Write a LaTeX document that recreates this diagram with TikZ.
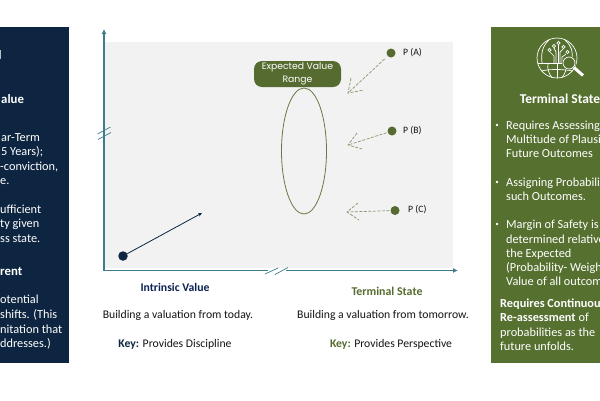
\documentclass[tikz,border=0pt]{standalone}
\usepackage{fontspec}
\setmainfont{Carlito}
\newfontfamily\labelfont{Poppins}
\usetikzlibrary{arrows.meta}
\definecolor{navy}{HTML}{0D2540}
\definecolor{leaf}{HTML}{567030}
\definecolor{axisc}{HTML}{3F7C8C}
\definecolor{plotbg}{HTML}{F2F2F2}
\definecolor{dotgreen}{HTML}{556B2F}
\definecolor{ink}{HTML}{141414}
\tikzset{
 lefttxt/.style={anchor=base west,text=white,font=\fontsize{12.3}{14}\selectfont,inner sep=0pt},
 righttxt/.style={anchor=base west,text=white,font=\fontsize{12.3}{14}\selectfont,inner sep=0pt},
 axisline/.style={axisc,line width=1.6pt,-{Latex[length=5pt,width=5pt]}},
 axisplain/.style={axisc,line width=1.6pt},
 breakmark/.style={axisc,line width=0.7pt},
 dashgreen/.style={dotgreen!70!white,line width=0.7pt,dash pattern=on 3pt off 1.5pt},
 pdot/.style={circle,fill=dotgreen,minimum size=9pt,inner sep=0pt},
 plabel/.style={anchor=west,text=ink,font=\fontsize{9.7}{11}\selectfont,inner sep=0pt},
 bodytxt/.style={text=ink,font=\fontsize{11.7}{14}\selectfont,inner sep=0pt},
 icon/.style={white,line width=0.7pt}
}
\begin{document}
\begin{tikzpicture}[x=1pt,y=-1pt]
\useasboundingbox (0,0) rectangle (600,400);
\fill[white] (0,0) rectangle (600,400);
% panels
\fill[navy] (0,27) rectangle (69,363);
\fill[leaf] (491,27) rectangle (600,363);
\fill[plotbg] (104,42) rectangle (453,268);
% left text
\draw[white!70!navy,line width=0.8pt] (0.3,50) -- (0.3,59);
\node[lefttxt,font=\fontsize{12.8}{14}\selectfont\bfseries] (l1) at (1,103) {alue};
\node[lefttxt] (l2) at (1,141) {ar-Term};
\node[lefttxt] (l3) at (1,155) {5 Years);};
\node[lefttxt] (l4) at (0,170) {-conviction,};
\node[lefttxt] (l5) at (0,184) {e.};
\node[lefttxt] (l6) at (0,213) {ufficient};
\node[lefttxt] (l7) at (0,227) {ty given};
\node[lefttxt] (l8) at (0,242) {ss state.};
\node[lefttxt,font=\fontsize{12.8}{14}\selectfont\bfseries] (l9) at (0,275) {rent};
\node[lefttxt] (l10) at (0,303) {otential};
\node[lefttxt] (l11) at (0,318) {shifts. (This};
\node[lefttxt] (l12) at (0,333) {nitation that};
\node[lefttxt] (l13) at (0,347) {ddresses.)};
% icon
\begin{scope}[icon]
\draw (557,58) circle[radius=20];
\draw (537.5,63) -- (572,63);
\draw (541,71) .. controls (550,69) and (562,69) .. (573,71);
\draw (557,63) -- (557,78);
\draw (548,63) .. controls (547,69) and (549,74) .. (552,77.5);
\draw (566,63) .. controls (567,69) and (565,74) .. (562,77.5);
\draw (549,40.2) .. controls (542,46) and (541,54) .. (542,63);
\draw (565,40.2) .. controls (572,46) and (573,52) .. (572,60);
\draw (556,63) -- (556,52) -- (554,48);
\draw (558,63) -- (558,45);
\draw (560,63) -- (560,52) -- (563,49);
\draw (554,63) -- (554,56) -- (550,52);
\draw (562,63) -- (562,57) -- (566,54);
\foreach \p in {(549.5,50),(554,46),(558.5,43),(563.5,47),(567.5,52)} \draw[fill=leaf] \p circle[radius=1.6];
\fill[leaf] (569,63) circle[radius=7];
\draw (569,63) circle[radius=6];
\draw[line width=3pt] (574,67.5) -- (583,75.5);
\end{scope}
% right text
\node[anchor=base,text=white,font=\fontsize{13.5}{14}\selectfont\bfseries,inner sep=0pt] (r0) at (560,103) {Terminal State};
\foreach \y in {129,186,228} \fill[white] (497,\y-4) circle[radius=1.3];
\node[righttxt] (r1) at (506,129) {Requires Assessing};
\node[righttxt] (r2) at (506,143) {Multitude of Plausi};
\node[righttxt] (r3) at (506,157) {Future Outcomes};
\node[righttxt] (r4) at (506,186) {Assigning Probabilit};
\node[righttxt] (r5) at (506,200) {such Outcomes.};
\node[righttxt] (r6) at (506,228) {Margin of Safety is};
\node[righttxt] (r7) at (506,243) {determined relative};
\node[righttxt] (r8) at (506,257) {the Expected};
\node[righttxt] (r9) at (506,271) {(Probability- Weigh};
\node[righttxt] (r10) at (506,285) {Value of all outcom};
\node[righttxt] (r11) at (500,307) {\textbf{Requires Continuou}};
\node[righttxt] (r12) at (500,321) {\textbf{Re-assessment} of};
\node[righttxt] (r13) at (500,336) {probabilities as the};
\node[righttxt] (r14) at (500,350) {future unfolds.};
% axes
\coordinate (origin) at (104,270.5);
\coordinate (ytop) at (104,29);
\coordinate (xend) at (458,270.5);
\coordinate (gapa) at (268,270.5);
\coordinate (gapb) at (286,270.5);
\draw[axisline] (origin) -- (ytop);
\draw[axisplain] (origin) -- (gapa);
\draw[axisline] (gapb) -- (xend);
\draw[breakmark] (97.5,134) -- (110.5,127);
\draw[breakmark] (98,139.5) -- (111,132.5);
\draw[breakmark] (265,274) -- (278,268);
\draw[breakmark] (275,274.5) -- (288,267.5);
% start dot
\node[circle,fill=navy,minimum size=9.5pt,inner sep=0pt] (start) at (123,256) {};
\coordinate (trend) at (202,213);
\draw[navy,line width=0.8pt,-{Stealth[length=4pt,width=3.5pt]}] (start) -- (trend);
% ellipse & label
\draw[dotgreen!90!white,line width=0.8pt] (304,151) ellipse[x radius=22.5,y radius=63];
\node[fill=dotgreen,rounded corners=8pt,minimum width=87pt,minimum height=26pt,inner sep=0pt,align=center,text=white,font=\labelfont\fontsize{9.3}{12.8}\selectfont] (range) at (297.5,74) {Expected Value\\Range};
% P
\node[pdot] (pa) at (391,53) {};
\node[pdot] (pb) at (392,131) {};
\node[pdot] (pc) at (395,210.5) {};
\node[plabel] (la) at (403,53) {P (A)};
\node[plabel] (lb) at (403,131) {P (B)};
\node[plabel] (lc) at (408,210) {P (C)};
\coordinate (ta) at (348,93);
\coordinate (tb) at (348,145);
\coordinate (tc) at (347,212);
\draw[dashgreen,shorten <=4pt] (pa) -- (ta);
\draw[dashgreen,shorten <=1pt] (pb) -- (tb);
\draw[dashgreen,shorten <=1pt] (pc) -- (tc);
\draw[dashgreen] (351,78) -- (ta) -- (364,90);
\draw[dashgreen] (357,133) -- (tb) -- (362,149);
\draw[dashgreen] (358,203) -- (tc) -- (359,220);
% bottom text
\node[text=navy!90!blue,font=\fontsize{11.7}{14}\selectfont\bfseries,inner sep=0pt] (b1) at (175,287) {Intrinsic Value};
\node[text=dotgreen,font=\fontsize{11.9}{14}\selectfont\bfseries,inner sep=0pt] (b2) at (387,291) {Terminal State};
\node[bodytxt] (b3) at (178,315) {Building a valuation from today.};
\node[bodytxt] (b4) at (383,315) {Building a valuation from tomorrow.};
\node[bodytxt] (b5) at (175,344) {\textbf{\textcolor{navy}{Key:}} Provides Discipline};
\node[bodytxt] (b6) at (391,344) {\textbf{\textcolor{dotgreen}{Key:}} Provides Perspective};
\end{tikzpicture}
\end{document}
